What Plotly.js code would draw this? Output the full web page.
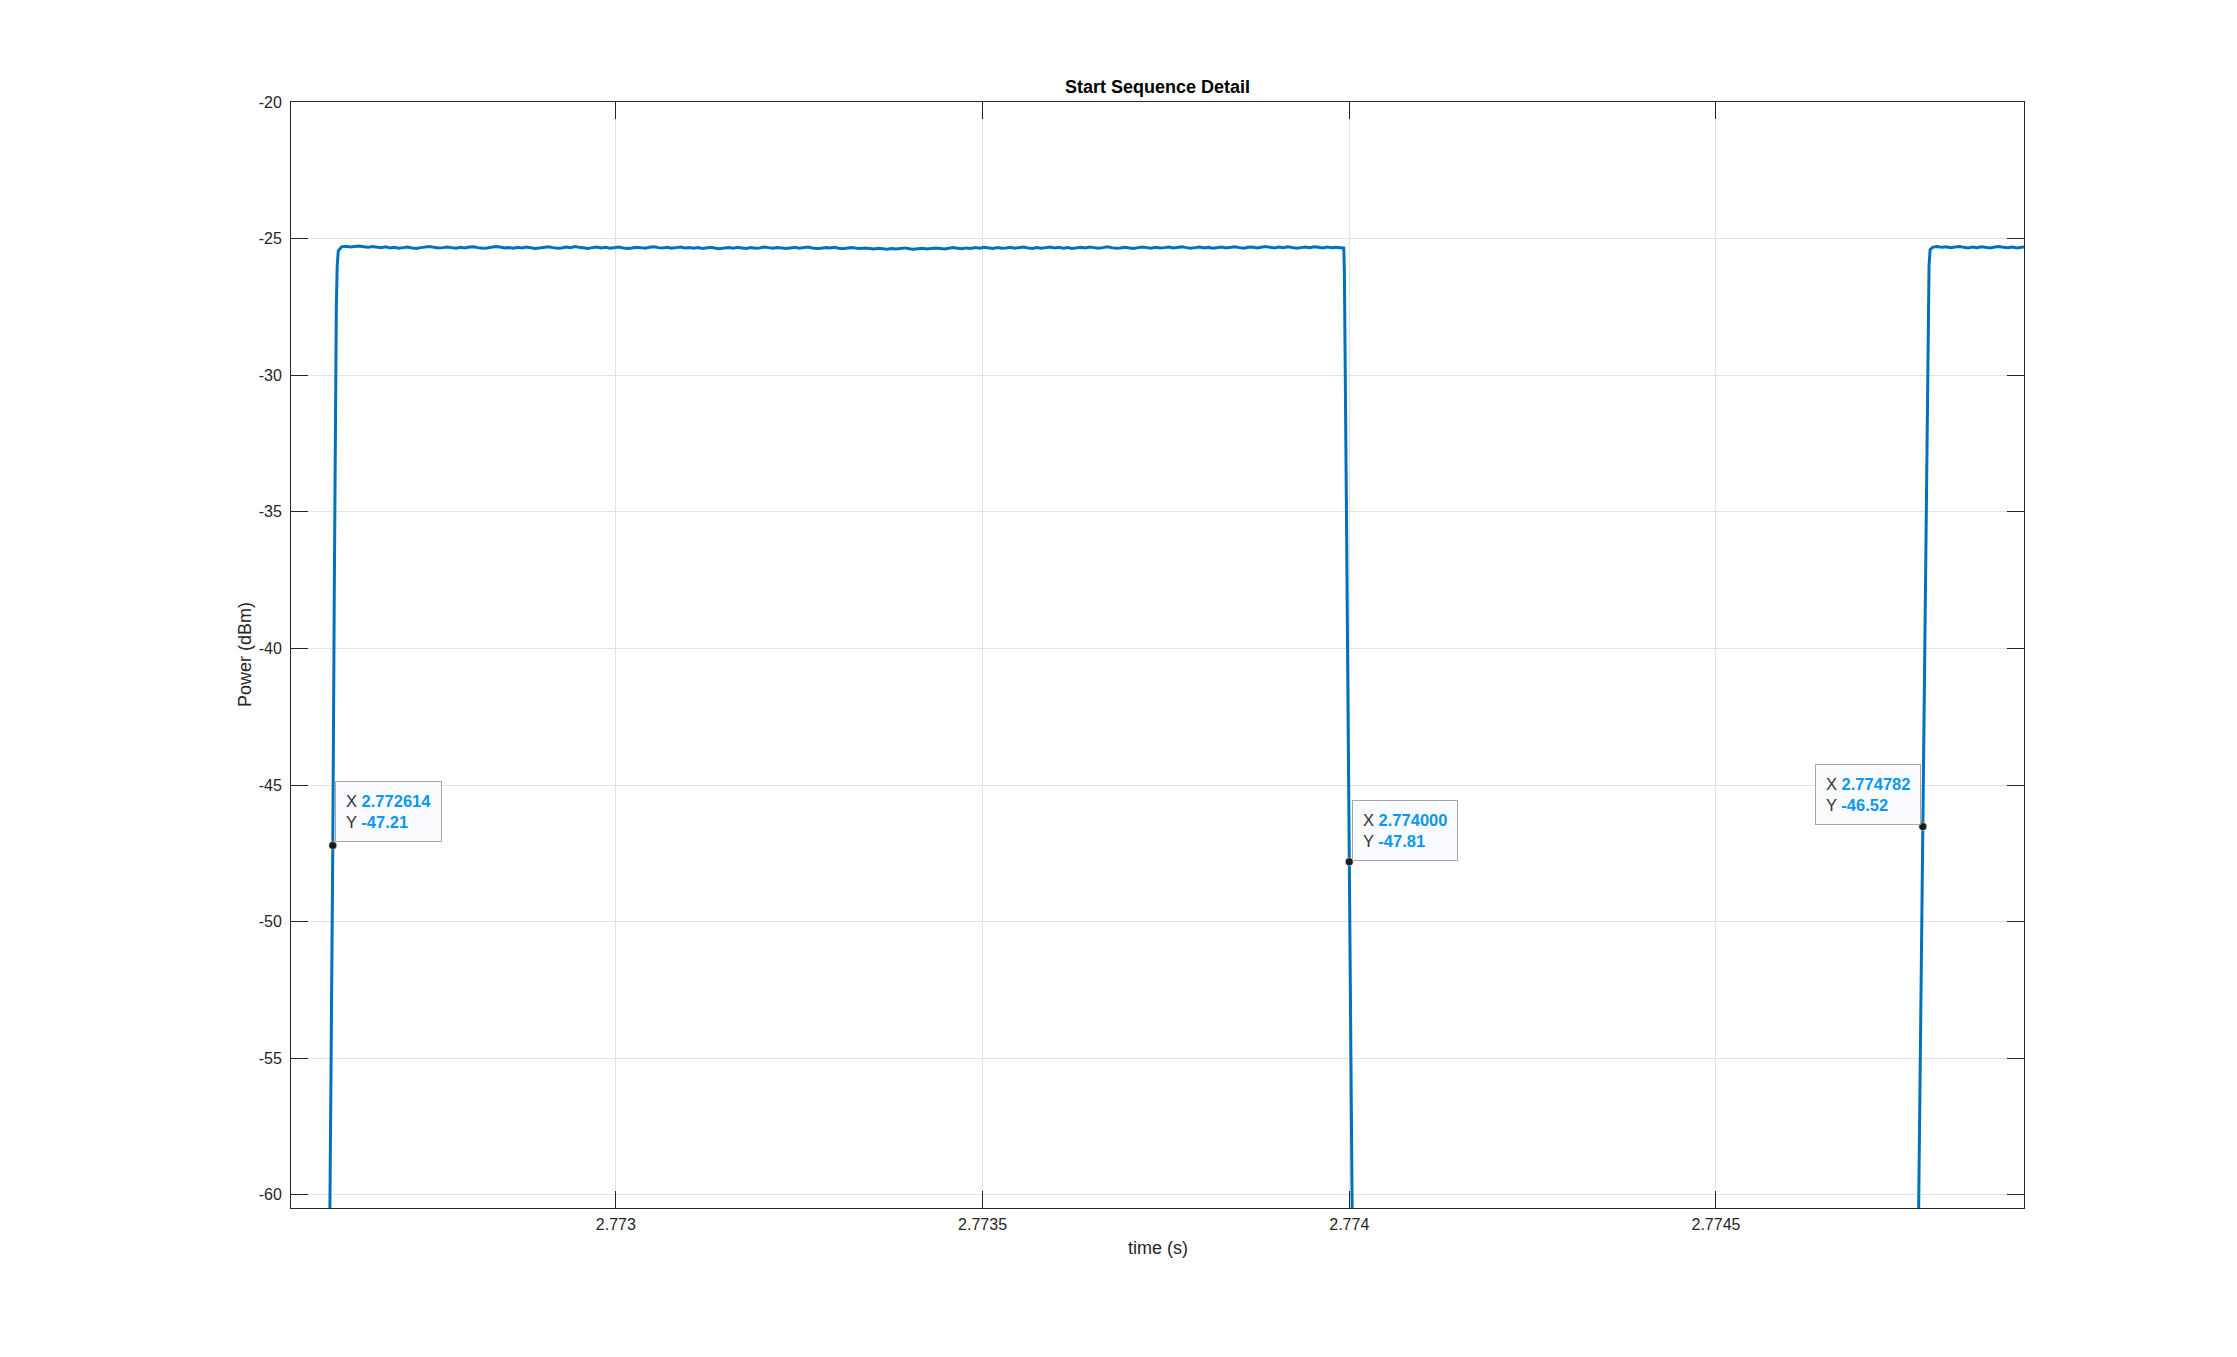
<!DOCTYPE html>
<html>
<head>
<meta charset="utf-8">
<script src="https://cdn.plot.ly/plotly-3.0.1.min.js"></script>
<style>html,body{margin:0;padding:0;background:#fff;}#chart{width:2237px;height:1357px;}</style>
</head>
<body>
<div id="chart"></div>
<script>
// ---- data ----
const xTickVals = [2.773, 2.7735, 2.774, 2.7745];
const xTickText = ['2.773', '2.7735', '2.774', '2.7745'];
const yTickVals = [-60, -55, -50, -45, -40, -35, -30, -25, -20];
const yTickText = ['-60', '-55', '-50', '-45', '-40', '-35', '-30', '-25', '-20'];

// rising edge of first pulse (time s, power dBm)
const rise1T = [2.772609, 2.7726115, 2.772614, 2.772616, 2.7726178, 2.7726188, 2.7726200, 2.7726215];
const rise1P = [-64, -56, -47.21, -38, -30, -27.5, -26.0, -25.45];

// flat top of first pulse, sampled every 6 us from pulse1Start
const pulse1Start = 2.772626;
const sampleStep = 0.000006;
const pulse1P = [
 -25.30,-25.28,-25.31,-25.29,-25.27,-25.30,-25.32,-25.29,-25.31,-25.33,-25.30,-25.34,-25.32,-25.35,-25.33,-25.31,-25.34,-25.36,-25.33,-25.30,
 -25.29,-25.32,-25.34,-25.33,-25.31,-25.33,-25.35,-25.32,-25.34,-25.31,-25.30,-25.33,-25.35,-25.34,-25.32,-25.29,-25.31,-25.34,-25.33,-25.35,
 -25.32,-25.34,-25.31,-25.33,-25.36,-25.34,-25.32,-25.30,-25.33,-25.35,-25.34,-25.31,-25.33,-25.29,-25.32,-25.34,-25.36,-25.33,-25.31,-25.34,
 -25.32,-25.35,-25.33,-25.31,-25.34,-25.36,-25.34,-25.32,-25.33,-25.35,-25.32,-25.30,-25.33,-25.34,-25.32,-25.35,-25.33,-25.31,-25.34,-25.33,
 -25.35,-25.33,-25.36,-25.34,-25.32,-25.35,-25.37,-25.34,-25.33,-25.35,-25.32,-25.34,-25.36,-25.33,-25.35,-25.34,-25.31,-25.33,-25.35,-25.33,
 -25.34,-25.36,-25.34,-25.32,-25.35,-25.33,-25.31,-25.34,-25.36,-25.35,-25.33,-25.34,-25.32,-25.35,-25.37,-25.34,-25.33,-25.35,-25.36,-25.34,
 -25.36,-25.38,-25.35,-25.37,-25.39,-25.36,-25.38,-25.36,-25.34,-25.37,-25.39,-25.37,-25.35,-25.38,-25.36,-25.34,-25.36,-25.38,-25.35,-25.33,
 -25.35,-25.37,-25.34,-25.36,-25.33,-25.35,-25.32,-25.34,-25.36,-25.33,-25.35,-25.34,-25.32,-25.35,-25.33,-25.31,-25.34,-25.36,-25.33,-25.35,
 -25.33,-25.31,-25.34,-25.32,-25.35,-25.33,-25.36,-25.34,-25.32,-25.34,-25.31,-25.33,-25.35,-25.33,-25.30,-25.33,-25.35,-25.34,-25.32,-25.34,
 -25.36,-25.33,-25.31,-25.33,-25.35,-25.32,-25.34,-25.33,-25.31,-25.34,-25.32,-25.30,-25.33,-25.35,-25.33,-25.31,-25.34,-25.32,-25.35,-25.33,
 -25.31,-25.34,-25.32,-25.30,-25.33,-25.35,-25.32,-25.31,-25.34,-25.32,-25.29,-25.32,-25.34,-25.31,-25.33,-25.30,-25.32,-25.35,-25.33,-25.31,
 -25.33,-25.30,-25.32,-25.34,-25.31,-25.33,-25.32,-25.34
];

// falling edge of first pulse
const fallT = [2.7739925, 2.7739933, 2.7739940, 2.7739960, 2.7739980, 2.7740000, 2.7740020, 2.7740040, 2.7740050];
const fallP = [-25.35, -26.2, -28.0, -34.5, -41.2, -47.81, -54.2, -60.6, -64];

// rising edge of second pulse
const rise2T = [2.7747745, 2.7747770, 2.7747800, 2.7747820, 2.7747850, 2.7747880, 2.7747895, 2.7747905, 2.7747920];
const rise2P = [-65, -59, -51.4, -46.52, -38.6, -30.5, -27.4, -26.0, -25.4];

// flat top of second pulse
const pulse2Start = 2.774796;
const pulse2P = [-25.31,-25.29,-25.32,-25.30,-25.33,-25.31,-25.29,-25.32,-25.34,-25.31,-25.33,-25.30,
                 -25.32,-25.34,-25.31,-25.29,-25.32,-25.33,-25.31,-25.34,-25.32,-25.30,-25.33];

// data tips
const tipX = [2.772614, 2.774000, 2.774782];
const tipY = [-47.21, -47.81, -46.52];

// ---- build series ----
const xs = [], ys = [];
function pushPairs(t, p) { for (let i = 0; i < t.length; i++) { xs.push(t[i]); ys.push(p[i]); } }
function pushSampled(t0, p) { for (let i = 0; i < p.length; i++) { xs.push(t0 + i * sampleStep); ys.push(p[i]); } }
pushPairs(rise1T, rise1P);
pushSampled(pulse1Start, pulse1P);
pushPairs(fallT, fallP);
xs.push(null); ys.push(null);
pushPairs(rise2T, rise2P);
pushSampled(pulse2Start, pulse2P);

const FONT = 'Liberation Sans, Arial, Helvetica, sans-serif';
const AXC = '#262626';

const traces = [
  { x: xs, y: ys, type: 'scatter', mode: 'lines', connectgaps: false,
    line: { color: '#0072BD', width: 3 }, hoverinfo: 'skip', showlegend: false },
  { x: tipX, y: tipY, type: 'scatter', mode: 'markers',
    marker: { color: '#1a1a1a', size: 8, line: { color: '#ffffff', width: 0.5 } },
    hoverinfo: 'skip', showlegend: false }
];

const tipAnchor = [
  { xanchor: 'left', xshift: 2, yshift: 3 },
  { xanchor: 'left', xshift: 3, yshift: 1 },
  { xanchor: 'right', xshift: -2, yshift: 2 }
];
const annotations = tipX.map((x, i) => ({
  x: x, y: tipY[i], xref: 'x', yref: 'y', showarrow: false,
  xanchor: tipAnchor[i].xanchor, yanchor: 'bottom',
  xshift: tipAnchor[i].xshift, yshift: tipAnchor[i].yshift,
  align: 'left',
  text: 'X <b><span style="color:#0b97ee">' + x.toFixed(6) + '</span></b><br>Y <b><span style="color:#0b97ee">' + tipY[i].toFixed(2) + '</span></b>',
  font: { family: FONT, size: 16.5, color: '#333333' },
  bgcolor: 'rgba(250,251,255,0.97)', bordercolor: '#a6a6a6', borderwidth: 1, borderpad: 10
}));
annotations.push({
  text: 'time (s)', xref: 'paper', yref: 'paper', x: 0.5, y: -0.0362,
  xanchor: 'center', yanchor: 'middle', showarrow: false,
  font: { family: FONT, size: 18, color: AXC }
});
annotations.push({
  text: 'Power (dBm)', xref: 'paper', yref: 'paper', x: -0.0265, y: 0.5,
  xanchor: 'center', yanchor: 'middle', showarrow: false, textangle: -90,
  font: { family: FONT, size: 18, color: AXC }
});

const layout = {
  width: 2237, height: 1357,
  margin: { l: 291, r: 213, t: 102, b: 149, pad: 0 },
  paper_bgcolor: '#ffffff', plot_bgcolor: '#ffffff',
  font: { family: FONT, size: 16, color: AXC },
  title: { text: '<b>Start Sequence Detail</b>', font: { family: FONT, size: 18, color: '#000000' },
           x: 0.5, xref: 'paper', xanchor: 'center', y: 1 - 87 / 1357, yref: 'container', yanchor: 'middle' },
  xaxis: {
    range: [2.772557, 2.77492], tickmode: 'array', tickvals: xTickVals, ticktext: xTickText,
    ticks: 'inside', ticklen: 17, tickwidth: 1, tickcolor: AXC,
    showline: true, linecolor: AXC, linewidth: 1, mirror: 'ticks',
    showgrid: true, gridcolor: '#e2e2e2', gridwidth: 1, zeroline: false,
    tickfont: { family: FONT, size: 16, color: AXC }, ticklabelstandoff: 2
  },
  yaxis: {
    range: [-60.48, -20], tickmode: 'array', tickvals: yTickVals, ticktext: yTickText,
    ticks: 'inside', ticklen: 17, tickwidth: 1, tickcolor: AXC,
    showline: true, linecolor: AXC, linewidth: 1, mirror: 'ticks',
    showgrid: true, gridcolor: '#e2e2e2', gridwidth: 1, zeroline: false,
    tickfont: { family: FONT, size: 16, color: AXC }, ticklabelstandoff: 5
  },
  annotations: annotations,
  hovermode: false, showlegend: false
};

Plotly.newPlot('chart', traces, layout, { staticPlot: true, displayModeBar: false });
</script>
</body>
</html>
